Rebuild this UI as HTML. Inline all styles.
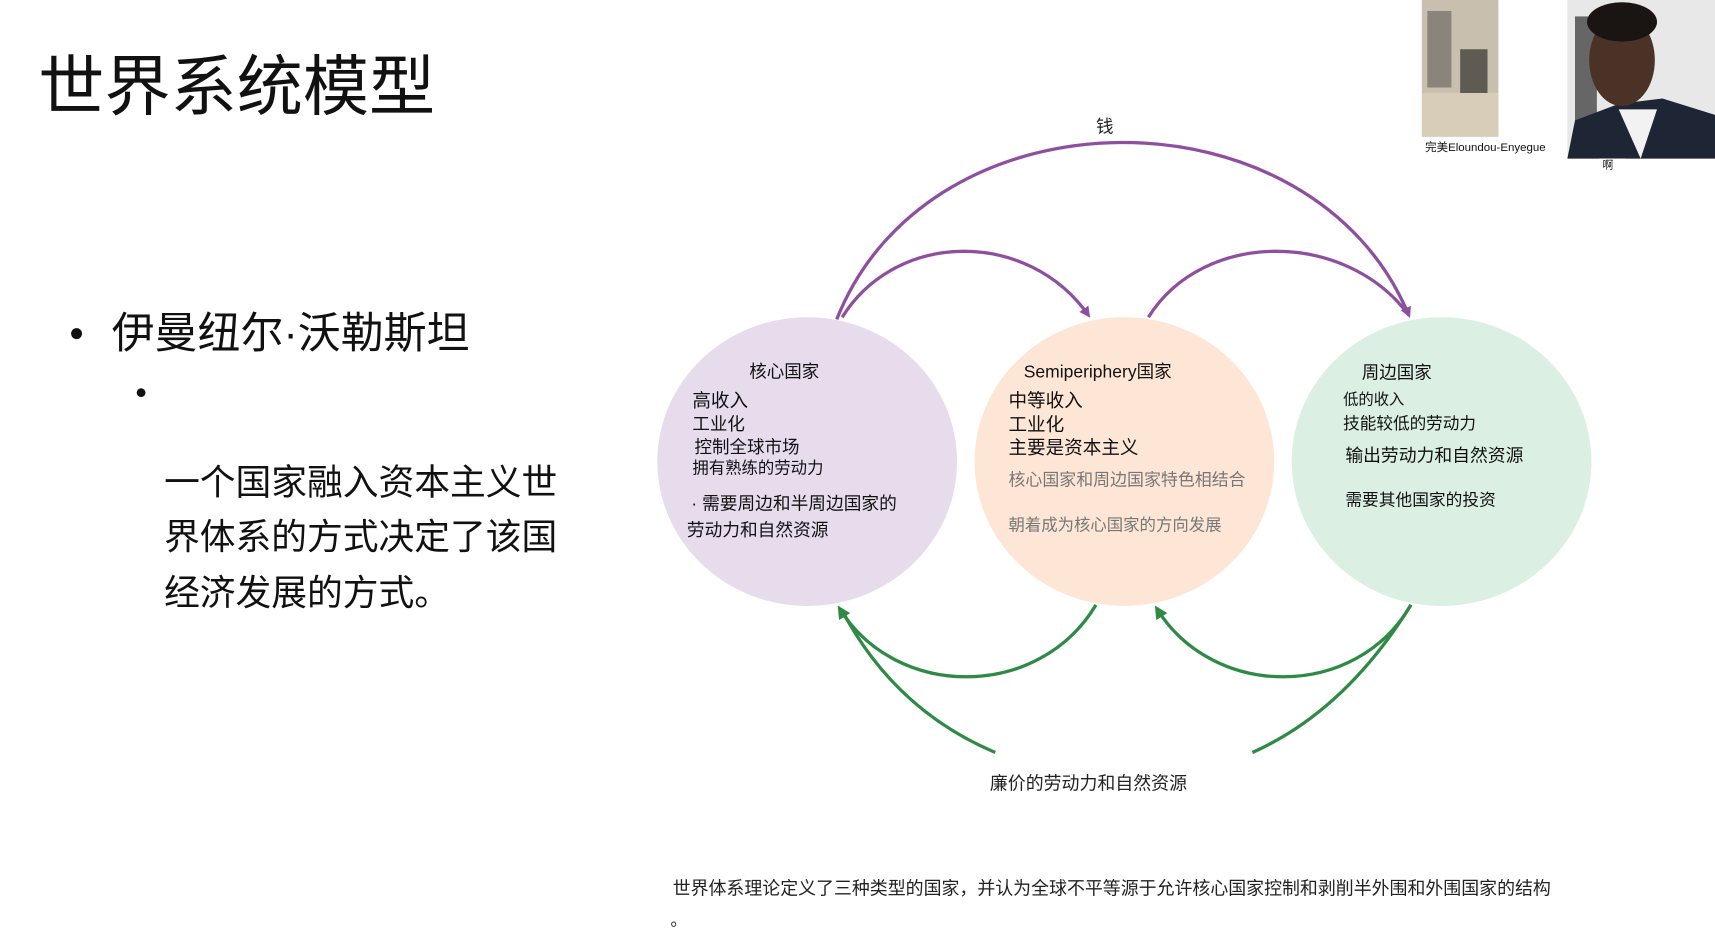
<!DOCTYPE html>
<html><head><meta charset="utf-8"><style>
html,body{margin:0;padding:0;background:#fff;}
svg{display:block;}
text{font-family:"Liberation Sans","Noto Sans CJK SC",sans-serif;}
</style></head><body>
<svg width="1715" height="933" viewBox="0 0 1568 853" xmlns="http://www.w3.org/2000/svg">
<defs>
<marker id="ap" markerWidth="10" markerHeight="10" refX="7" refY="5" orient="auto" markerUnits="userSpaceOnUse"><path d="M0,0 L10,5 L0,10 z" fill="#8e4f9e"/></marker>
<marker id="ag" markerWidth="12" markerHeight="12" refX="8" refY="6" orient="auto" markerUnits="userSpaceOnUse"><path d="M0,0 L12,6 L0,12 z" fill="#2f8a45"/></marker>
</defs>
<text x="35" y="100" font-size="60.5" fill="#111">世界系统模型</text>
<circle cx="70" cy="305" r="5" fill="#111"/>
<text x="102" y="318" font-size="39.3" fill="#111">伊曼纽尔·沃勒斯坦</text>
<circle cx="129" cy="359" r="4" fill="#111"/>
<g font-size="32.7" fill="#111">
<text x="150" y="452">一个国家融入资本主义世</text>
<text x="150" y="502">界体系的方式决定了该国</text>
<text x="150" y="553">经济发展的方式。</text>
</g>
<ellipse cx="738" cy="422" rx="137" ry="132" fill="#e6dcec"/>
<ellipse cx="1028" cy="422" rx="137" ry="132" fill="#fde6d6"/>
<ellipse cx="1318" cy="422" rx="137" ry="132" fill="#dcefe3"/>
<g fill="none" stroke="#8e4f9e" stroke-width="3">
<path d="M765 292 C850 77,1200 77,1288 288" marker-end="url(#ap)"/>
<path d="M770 290 C820 210,940 210,995 288" marker-end="url(#ap)"/>
<path d="M1050 290 C1100 210,1230 210,1288 288"/>
</g>
<g fill="none" stroke="#2f8a45" stroke-width="3">
<path d="M1002 553 C950 640,820 640,768 557" marker-end="url(#ag)"/>
<path d="M910 688 Q820 650,772 562"/>
<path d="M1290 553 C1240 640,1110 640,1058 557" marker-end="url(#ag)"/>
<path d="M1290 553 Q1230 650,1145 688"/>
</g>
<text x="1002" y="121" font-size="16" fill="#222">钱</text>
<text x="905" y="722" font-size="16.4" fill="#222">廉价的劳动力和自然资源</text>
<g fill="#111">
<text x="685" y="345" font-size="16">核心国家</text>
<text x="633" y="372" font-size="17">高收入</text>
<text x="633" y="393" font-size="16">工业化</text>
<text x="635" y="414" font-size="16">控制全球市场</text>
<text x="633" y="433" font-size="15">拥有熟练的劳动力</text>
<text x="632" y="466" font-size="16.2">· 需要周边和半周边国家的</text>
<text x="628" y="490" font-size="16.2">劳动力和自然资源</text>
</g>
<g fill="#111">
<text x="936" y="345" font-size="16">Semiperiphery国家</text>
<text x="922" y="372" font-size="17">中等收入</text>
<text x="922" y="394" font-size="17">工业化</text>
<text x="922" y="415" font-size="17">主要是资本主义</text>
<text x="922" y="444" font-size="15.5" fill="#777">核心国家和周边国家特色相结合</text>
<text x="922" y="485" font-size="15" fill="#777">朝着成为核心国家的方向发展</text>
</g>
<g fill="#111">
<text x="1245" y="346" font-size="16">周边国家</text>
<text x="1228" y="370" font-size="14">低的收入</text>
<text x="1228" y="392" font-size="15.2">技能较低的劳动力</text>
<text x="1230" y="422" font-size="16.3">输出劳动力和自然资源</text>
<text x="1230" y="462" font-size="15.3">需要其他国家的投资</text>
</g>
<text x="615" y="818" font-size="16.4" fill="#222">世界体系理论定义了三种类型的国家，并认为全球不平等源于允许核心国家控制和剥削半外围和外围国家的结构</text>
<text x="613" y="846" font-size="15" fill="#222">。</text>
<g>
<rect x="1300" y="0" width="70" height="125" fill="#c9bfae"/>
<rect x="1305" y="10" width="22" height="70" fill="#8a847a"/>
<rect x="1335" y="45" width="25" height="65" fill="#5f5a52"/>
<rect x="1300" y="85" width="70" height="40" fill="#d8cdb9"/>
<text x="1303" y="138" font-size="10.5" fill="#111">完美Eloundou-Enyegue</text>
</g>
<g>
<rect x="1433" y="0" width="135" height="145" fill="#e8e8e8"/>
<rect x="1440" y="15" width="20" height="110" fill="#666"/>
<path d="M1433 145 L1440 110 L1480 95 L1520 90 L1568 105 L1568 145 Z" fill="#1e2535"/>
<path d="M1480 100 L1500 145 L1515 100 Z" fill="#f2f2f2"/>
<ellipse cx="1483" cy="55" rx="30" ry="42" fill="#4a3226"/>
<ellipse cx="1483" cy="20" rx="32" ry="18" fill="#1a1412"/>
<rect x="1462" y="145" width="24" height="14" fill="#fff"/>
<text x="1465" y="154" font-size="10" fill="#111">啊</text>
</g>
</svg>
</body></html>
